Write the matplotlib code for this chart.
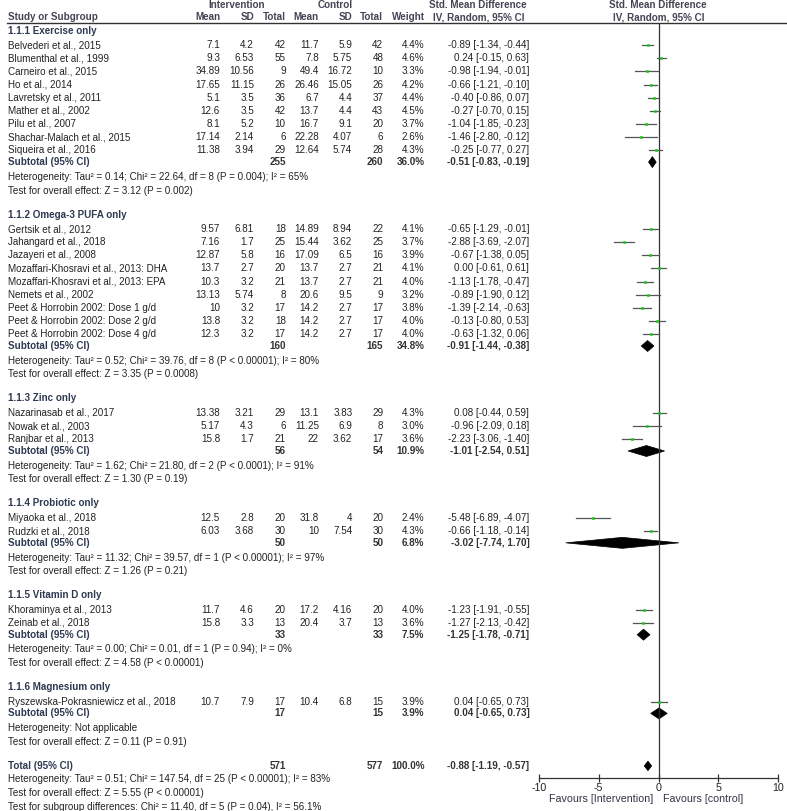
import numpy as np
import matplotlib
matplotlib.use('Agg')
import matplotlib.pyplot as plt
from matplotlib.patches import Polygon

# ---- data ----
groups = ['1.1.1 Exercise only', '1.1.2 Omega-3 PUFA only', '1.1.3 Zinc only',
          '1.1.4 Probiotic only', '1.1.5 Vitamin D only', '1.1.6 Magnesium only']

study_names = ['Belvederi et al., 2015', 'Blumenthal et al., 1999', 'Carneiro et al., 2015',
               'Ho et al., 2014', 'Lavretsky et al., 2011', 'Mather et al., 2002', 'Pilu et al., 2007',
               'Shachar-Malach et al., 2015', 'Siqueira et al., 2016',
               'Gertsik et al., 2012', 'Jahangard et al., 2018', 'Jazayeri et al., 2008',
               'Mozaffari-Khosravi et al., 2013: DHA', 'Mozaffari-Khosravi et al., 2013: EPA',
               'Nemets et al., 2002', 'Peet & Horrobin 2002: Dose 1 g/d',
               'Peet & Horrobin 2002: Dose 2 g/d', 'Peet & Horrobin 2002: Dose 4 g/d',
               'Nazarinasab et al., 2017', 'Nowak et al., 2003', 'Ranjbar et al., 2013',
               'Miyaoka et al., 2018', 'Rudzki et al., 2018',
               'Khoraminya et al., 2013', 'Zeinab et al., 2018',
               'Ryszewska-Pokrasniewicz et al., 2018']
study_group = [0]*9 + [1]*9 + [2]*3 + [3]*2 + [4]*2 + [5]

int_mean = [7.1, 9.3, 34.89, 17.65, 5.1, 12.6, 8.1, 17.14, 11.38,
            9.57, 7.16, 12.87, 13.7, 10.3, 13.13, 10, 13.8, 12.3,
            13.38, 5.17, 15.8, 12.5, 6.03, 11.7, 15.8, 10.7]
int_sd = [4.2, 6.53, 10.56, 11.15, 3.5, 3.5, 5.2, 2.14, 3.94,
          6.81, 1.7, 5.8, 2.7, 3.2, 5.74, 3.2, 3.2, 3.2,
          3.21, 4.3, 1.7, 2.8, 3.68, 4.6, 3.3, 7.9]
int_n = [42, 55, 9, 26, 36, 42, 10, 6, 29,
         18, 25, 16, 20, 21, 8, 17, 18, 17,
         29, 6, 21, 20, 30, 20, 13, 17]
ctl_mean = [11.7, 7.8, 49.4, 26.46, 6.7, 13.7, 16.7, 22.28, 12.64,
            14.89, 15.44, 17.09, 13.7, 13.7, 20.6, 14.2, 14.2, 14.2,
            13.1, 11.25, 22, 31.8, 10, 17.2, 20.4, 10.4]
ctl_sd = [5.9, 5.75, 16.72, 15.05, 4.4, 4.4, 9.1, 4.07, 5.74,
          8.94, 3.62, 6.5, 2.7, 2.7, 9.5, 2.7, 2.7, 2.7,
          3.83, 6.9, 3.62, 4, 7.54, 4.16, 3.7, 6.8]
ctl_n = [42, 48, 10, 26, 37, 43, 20, 6, 28,
         22, 25, 16, 21, 21, 9, 17, 17, 17,
         29, 8, 17, 20, 30, 20, 13, 15]
weight = [4.4, 4.6, 3.3, 4.2, 4.4, 4.5, 3.7, 2.6, 4.3,
          4.1, 3.7, 3.9, 4.1, 4.0, 3.2, 3.8, 4.0, 4.0,
          4.3, 3.0, 3.6, 2.4, 4.3, 4.0, 3.6, 3.9]
smd = [-0.89, 0.24, -0.98, -0.66, -0.40, -0.27, -1.04, -1.46, -0.25,
       -0.65, -2.88, -0.67, 0.00, -1.13, -0.89, -1.39, -0.13, -0.63,
       0.08, -0.96, -2.23, -5.48, -0.66, -1.23, -1.27, 0.04]
ci_lo = [-1.34, -0.15, -1.94, -1.21, -0.86, -0.70, -1.85, -2.80, -0.77,
         -1.29, -3.69, -1.38, -0.61, -1.78, -1.90, -2.14, -0.80, -1.32,
         -0.44, -2.09, -3.06, -6.89, -1.18, -1.91, -2.13, -0.65]
ci_hi = [-0.44, 0.63, -0.01, -0.10, 0.07, 0.15, -0.23, -0.12, 0.27,
         -0.01, -2.07, 0.05, 0.61, -0.47, 0.12, -0.63, 0.53, 0.06,
         0.59, 0.18, -1.40, -4.07, -0.14, -0.55, -0.42, 0.73]

sub_int_n = [255, 160, 56, 50, 33, 17]
sub_ctl_n = [260, 165, 54, 50, 33, 15]
sub_weight = [36.0, 34.8, 10.9, 6.8, 7.5, 3.9]
sub_smd = [-0.51, -0.91, -1.01, -3.02, -1.25, 0.04]
sub_lo = [-0.83, -1.44, -2.54, -7.74, -1.78, -0.65]
sub_hi = [-0.19, -0.38, 0.51, 1.70, -0.71, 0.73]
sub_het = ['Heterogeneity: Tau\u00b2 = 0.14; Chi\u00b2 = 22.64, df = 8 (P = 0.004); I\u00b2 = 65%',
           'Heterogeneity: Tau\u00b2 = 0.52; Chi\u00b2 = 39.76, df = 8 (P < 0.00001); I\u00b2 = 80%',
           'Heterogeneity: Tau\u00b2 = 1.62; Chi\u00b2 = 21.80, df = 2 (P < 0.0001); I\u00b2 = 91%',
           'Heterogeneity: Tau\u00b2 = 11.32; Chi\u00b2 = 39.57, df = 1 (P < 0.00001); I\u00b2 = 97%',
           'Heterogeneity: Tau\u00b2 = 0.00; Chi\u00b2 = 0.01, df = 1 (P = 0.94); I\u00b2 = 0%',
           'Heterogeneity: Not applicable']
sub_test = ['Test for overall effect: Z = 3.12 (P = 0.002)',
            'Test for overall effect: Z = 3.35 (P = 0.0008)',
            'Test for overall effect: Z = 1.30 (P = 0.19)',
            'Test for overall effect: Z = 1.26 (P = 0.21)',
            'Test for overall effect: Z = 4.58 (P < 0.00001)',
            'Test for overall effect: Z = 0.11 (P = 0.91)']

total_int_n, total_ctl_n = 571, 577
total_smd, total_lo, total_hi = -0.88, -1.19, -0.57
total_lines = ['Heterogeneity: Tau\u00b2 = 0.51; Chi\u00b2 = 147.54, df = 25 (P < 0.00001); I\u00b2 = 83%',
               'Test for overall effect: Z = 5.55 (P < 0.00001)',
               'Test for subgroup differences: Chi\u00b2 = 11.40, df = 5 (P = 0.04), I\u00b2 = 56.1%']

xticks = [-10, -5, 0, 5, 10]

# ---- layout (pixels) ----
W, H = 787, 811
FS = 7.1
plt.rcParams['font.family'] = ['Liberation Sans', 'DejaVu Sans']
TXT = '#222222'
HDR = '#2e3a52'

fig = plt.figure(figsize=(W/100, H/100), dpi=100)
ax = fig.add_axes([0, 0, 1, 1])
ax.set_xlim(0, W)
ax.set_ylim(H, 0)
ax.axis('off')

axis_y = 777.7
line_y = 23.3
fx0, fx1 = 538.7, 778.3
fax = fig.add_axes([fx0/W, 1 - axis_y/H, (fx1-fx0)/W, (axis_y-line_y)/H])
fax.set_xlim(-10, 10)
fax.set_ylim(axis_y, line_y)
fax.patch.set_alpha(0)
for s in ['top', 'left', 'right']:
    fax.spines[s].set_visible(False)
fax.spines['bottom'].set_color('#333333')
fax.spines['bottom'].set_linewidth(0.9)
fax.set_yticks([])
fax.set_xticks(xticks)
fax.set_xticklabels([str(t) for t in xticks], fontsize=FS+0.6, color=TXT)
fax.tick_params(axis='x', direction='inout', length=6, width=0.9, color='#333333', pad=0.5)
fax.axvline(0, color='#333333', lw=0.9)

col_x = {'im': 220, 'isd': 254, 'in': 285.7, 'cm': 319, 'csd': 352.3, 'cn': 383.3,
         'w': 424.5, 'ci': 529.3}


def t(x, y, s, ha='left', bold=False, color=TXT, size=FS):
    ax.text(x, y, s, ha=ha, va='center', fontsize=size, color=color,
            fontweight='bold' if bold else 'normal')


def fmt_ci(e, lo, hi):
    return f'{e:.2f} [{lo:.2f}, {hi:.2f}]'


def diamond(y, e, lo, hi, h=5.5):
    fax.add_patch(Polygon([[lo, y], [e, y - h], [hi, y], [e, y + h]], closed=True,
                          facecolor='black', edgecolor='black', lw=0.5, clip_on=False))


# header
t(236.7, 4.5, 'Intervention', ha='center', bold=True, color='#444455')
t(335, 4.5, 'Control', ha='center', bold=True, color='#444455')
t(478.3, 4.5, 'Std. Mean Difference', ha='center', bold=True, color='#444455')
t(658.3, 4.5, 'Std. Mean Difference', ha='center', bold=True, color='#444455')
t(8.3, 17, 'Study or Subgroup', bold=True, color='#444455')
for key, lab in [('im', 'Mean'), ('isd', 'SD'), ('in', 'Total'), ('cm', 'Mean'),
                 ('csd', 'SD'), ('cn', 'Total'), ('w', 'Weight')]:
    t(col_x[key], 17, lab, ha='right', bold=True, color='#444455')
t(478.3, 17, 'IV, Random, 95% CI', ha='center', bold=True, color='#444455')
t(658.3, 17, 'IV, Random, 95% CI', ha='center', bold=True, color='#444455')
ax.plot([7, W], [line_y, line_y], color='#333333', lw=1.0)

y = 30.7
for g, gname in enumerate(groups):
    t(8.3, y, gname, bold=True, color=HDR)
    idx = [i for i, sg in enumerate(study_group) if sg == g]
    y += 14.4
    for k, i in enumerate(idx):
        if k > 0:
            y += 13.15
        t(8.3, y, study_names[i])
        t(col_x['im'], y, f'{int_mean[i]:g}', ha='right')
        t(col_x['isd'], y, f'{int_sd[i]:g}', ha='right')
        t(col_x['in'], y, f'{int_n[i]}', ha='right')
        t(col_x['cm'], y, f'{ctl_mean[i]:g}', ha='right')
        t(col_x['csd'], y, f'{ctl_sd[i]:g}', ha='right')
        t(col_x['cn'], y, f'{ctl_n[i]}', ha='right')
        t(col_x['w'], y, f'{weight[i]:.1f}%', ha='right')
        t(col_x['ci'], y, fmt_ci(smd[i], ci_lo[i], ci_hi[i]), ha='right')
        fax.plot([ci_lo[i], ci_hi[i]], [y, y], color='#555555', lw=0.9, clip_on=False)
        fax.plot(smd[i], y, 's', color='#11cc11', mec='#11cc11', mew=0.4,
                 markersize=0.95*np.sqrt(weight[i]), clip_on=False, zorder=3)
    y += 11.8
    t(8.3, y, 'Subtotal (95% CI)', bold=True, color=HDR)
    t(col_x['in'], y, f'{sub_int_n[g]}', ha='right', bold=True, color='#333333')
    t(col_x['cn'], y, f'{sub_ctl_n[g]}', ha='right', bold=True, color='#333333')
    t(col_x['w'], y, f'{sub_weight[g]:.1f}%', ha='right', bold=True, color='#333333')
    t(col_x['ci'], y, fmt_ci(sub_smd[g], sub_lo[g], sub_hi[g]), ha='right', bold=True, color='#333333')
    diamond(y, sub_smd[g], sub_lo[g], sub_hi[g])
    y += 14.7
    t(8.3, y, sub_het[g])
    y += 13.8
    t(8.3, y, sub_test[g])
    y += 24

t(8.3, y, 'Total (95% CI)', bold=True, color=HDR)
t(col_x['in'], y, f'{total_int_n}', ha='right', bold=True, color='#333333')
t(col_x['cn'], y, f'{total_ctl_n}', ha='right', bold=True, color='#333333')
t(col_x['w'], y, '100.0%', ha='right', bold=True, color='#333333')
t(col_x['ci'], y, fmt_ci(total_smd, total_lo, total_hi), ha='right', bold=True, color='#333333')
diamond(y, total_smd, total_lo, total_hi, h=4.8)
for line in total_lines:
    y += 13.6
    t(8.3, y, line)

t(653, 798.7, 'Favours [Intervention]', ha='right', color='#333344', size=FS+0.6)
t(662.7, 798.7, 'Favours [control]', ha='left', color='#333344', size=FS+0.6)

fig.savefig('out.png', dpi=100)
